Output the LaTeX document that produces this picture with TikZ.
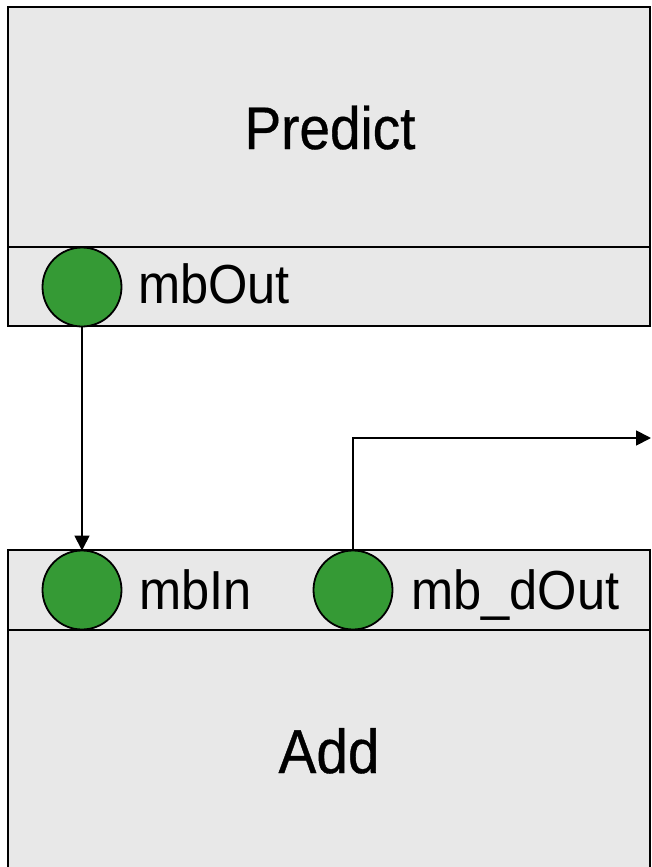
\documentclass[tikz,border=0pt]{standalone}
\usepackage{fontspec}
\usetikzlibrary{arrows.meta}
\setmainfont{Liberation Sans}
\newfontfamily\narrowfont[FakeStretch=0.92]{Liberation Sans}
\newfontfamily\titlefont[FakeStretch=0.915,FakeBold=0.6]{Liberation Sans}
\definecolor{blockgray}{RGB}{232,232,232}
\definecolor{portgreen}{RGB}{53,154,53}
\begin{document}
\begin{tikzpicture}[x=1pt,y=-1pt,
  block/.style={draw=black,line width=1.8pt,fill=blockgray,rectangle,
    inner sep=0pt,outer sep=0pt,anchor=north west,minimum width=642pt},
  port/.style={circle,draw=black,line width=1.8pt,fill=portgreen,
    minimum size=79pt,inner sep=0pt,outer sep=0pt},
  portlabel/.style={anchor=base west,inner sep=0pt,
    font=\narrowfont\fontsize{55}{55}\selectfont},
  title/.style={anchor=base,inner sep=0pt,
    font=\titlefont\fontsize{60}{60}\selectfont},
  wire/.style={line width=1.8pt,-{Triangle[length=15pt,width=15pt]}}]
\useasboundingbox (0,0) rectangle (651,867);
\fill[white] (0,0) rectangle (651,867);

% Predict block with its port strip
\node[block,minimum height=240pt] (predict) at (8,7) {};
\node[block,minimum height=79pt] (predictports) at (8,247) {};
\node[title] (predicttitle) at (330,149) {Predict};
\node[port] (mbout) at (82,287) {};
\node[portlabel] (mboutlabel) at (138,303) {mbOut};

% Add block with its port strip
\node[block,minimum height=80pt] (addports) at (8,550) {};
\node[block,minimum height=260pt] (add) at (8,630) {};
\node[title,font=\titlefont\fontsize{62}{62}\selectfont] (addtitle) at (329,773) {Add};
\node[port] (mbin) at (82,590) {};
\node[portlabel] (mbinlabel) at (139,609) {mbIn};
\node[port] (mbdout) at (353,590) {};
\node[portlabel] (mbdoutlabel) at (411,609) {mb\_dOut};

% Connections
\coordinate (dout) at (651,438);
\draw[wire] (mbout.south) -- (mbin.north);
\draw[wire] (mbdout.north) |- (dout);
\end{tikzpicture}
\end{document}
